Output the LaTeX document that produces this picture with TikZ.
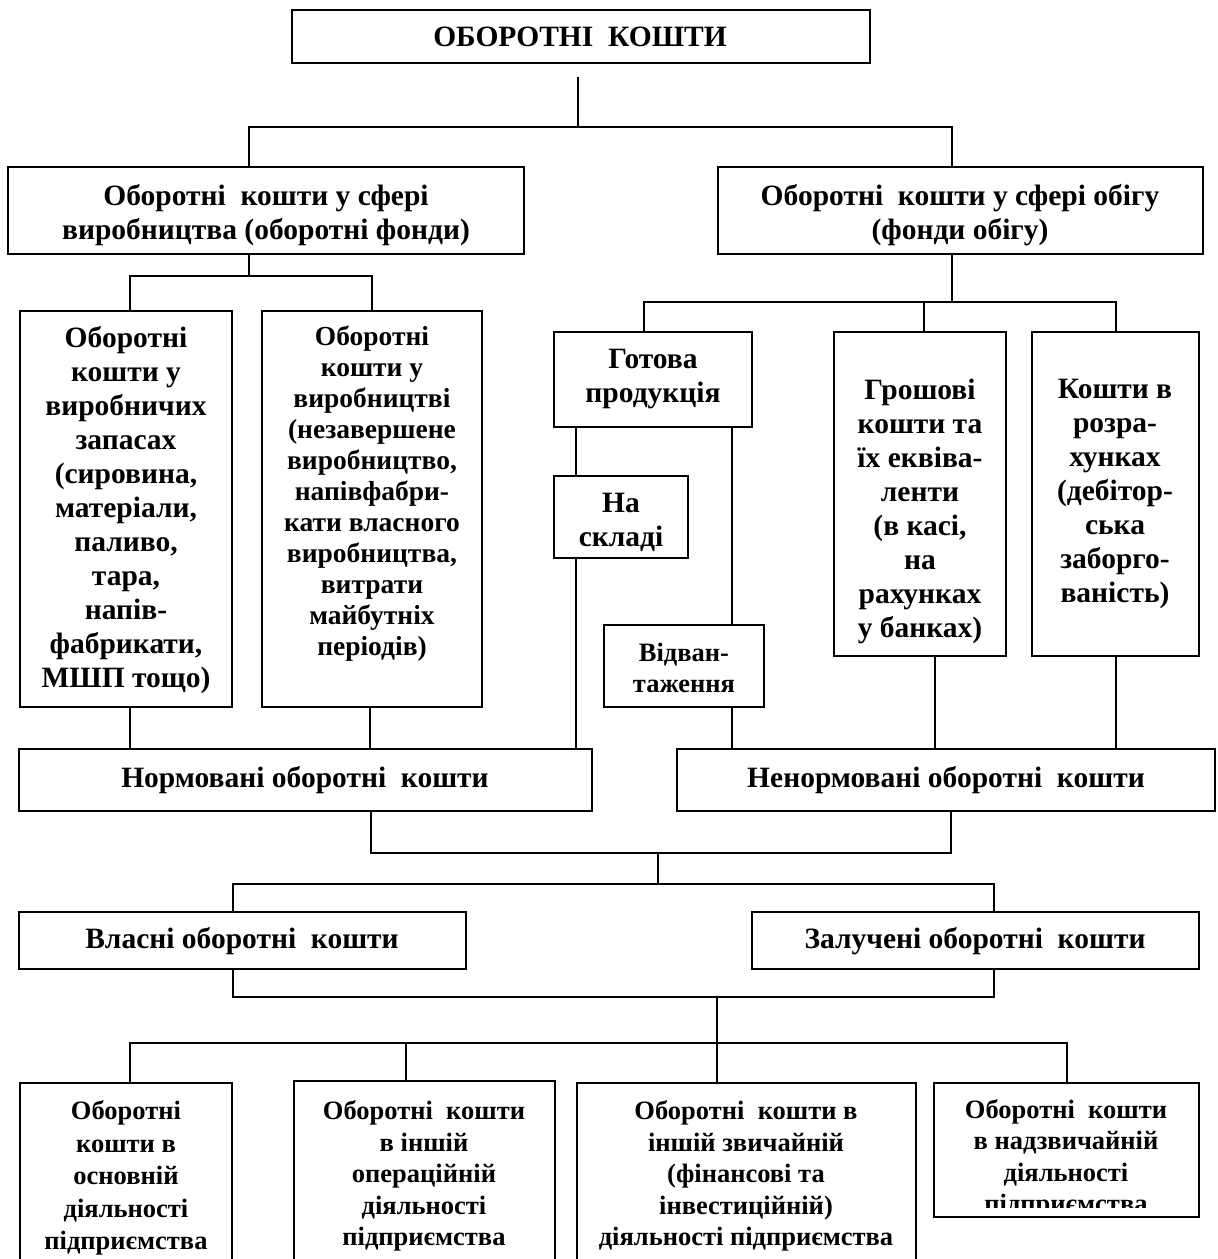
\documentclass[tikz,border=0pt]{standalone}
\usepackage{fontspec}
\setmainfont{Liberation Serif}
\newcommand{\bx}[5]{\node[box, minimum width=#4pt-#2pt, minimum height=#5pt-#3pt] (#1) at (#2,#3) {};}
\begin{document}
\begin{tikzpicture}[x=1pt,y=-1pt,
  box/.style={draw, line width=1.9pt, inner sep=0pt, outer sep=0pt, anchor=north west},
  txt/.style={align=center, inner sep=0pt, font=\fontsize{29.5}{34}\selectfont\bfseries},
  txts/.style={align=center, inner sep=0pt, font=\fontsize{26.5}{31.5}\selectfont\bfseries},
  ln/.style={line width=1.4pt}]
\clip (0,0) rectangle (1218,1259);
\fill[white] (0,0) rectangle (1218,1259);
% boxes
\bx{top}{292}{10}{870}{63}
\bx{La}{8}{167}{524}{254}
\bx{Lb}{718}{167}{1203}{254}
\bx{A}{20}{311}{232}{707}
\bx{B}{262}{311}{482}{707}
\bx{G}{554}{332}{752}{427}
\bx{S}{554}{476}{688}{558}
\bx{V}{604}{625}{764}{707}
\bx{M}{834}{332}{1006}{656}
\bx{R}{1032}{332}{1199}{656}
\bx{N}{19}{749}{592}{811}
\bx{NN}{677}{749}{1215}{811}
\bx{O}{19}{912}{466}{969}
\bx{Z}{752}{912}{1199}{969}
\bx{b1}{20}{1083}{232}{1300}
\bx{b2}{294}{1081}{555}{1300}
\bx{b3}{577}{1083}{916}{1300}
\bx{b4}{934}{1083}{1199}{1217}
% texts
\node[txt] (ttop) at (580,37) {ОБОРОТНІ~ КОШТИ};
\node[txt] (tLa) at (266,215) {Оборотні~ кошти у сфері\\виробництва (оборотні фонди)};
\node[txt] (tLb) at (960,215) {Оборотні~ кошти у сфері обігу\\(фонди обігу)};
\node[txt] (tA) at (126,510) {Оборотні\\кошти у\\виробничих\\запасах\\(сировина,\\матеріали,\\паливо,\\тара,\\напів-\\фабрикати,\\МШП тощо)};
\node[txt, font=\fontsize{27.5}{31}\selectfont\bfseries] (tB) at (372,494) {Оборотні\\кошти у\\виробництві\\(незавершене\\виробництво,\\напівфабри-\\кати власного\\виробництва,\\витрати\\майбутніх\\періодів)};
\node[txt] (tG) at (653,379) {Готова\\продукція};
\node[txt] (tS) at (621,522) {На\\складі};
\node[txts, font=\fontsize{26.5}{31}\selectfont\bfseries] (tV) at (684,668) {Відван-\\таження};
\node[txt] (tM) at (920,511) {Грошові\\кошти та\\їх екві\-ва-\\ленти\\(в касі,\\на\\рахунках\\у банках)};
\node[txt] (tR) at (1115,494) {Кошти в\\розра-\\хунках\\(дебітор-\\ська\\заборго-\\ваність)};
\node[txt] (tN) at (305,780) {Нормовані оборотні~ кошти};
\node[txt] (tNN) at (946,780) {Ненормовані оборотні~ кошти};
\node[txt] (tO) at (242,941) {Власні оборотні~ кошти};
\node[txt] (tZ) at (975,941) {Залучені оборотні~ кошти};
\node[txts, font=\fontsize{26.5}{32.5}\selectfont\bfseries] (tb1) at (126,1178) {Оборотні\\кошти в\\основній\\діяльності\\підприємства};
\node[txts] (tb2) at (424,1176) {Оборотні~ кошти\\в іншій\\операційній\\діяльності\\підприємства};
\node[txts] (tb3) at (746,1176) {Оборотні~ кошти в\\іншій звичайній\\(фінансові та\\інвестиційній)\\діяльності підприємства};
\begin{scope}
\clip (934,1083) rectangle (1199,1207);
\node[txts] (tb4) at (1066,1159) {Оборотні~ кошти\\в надзвичайній\\діяльності\\підприємства};
\end{scope}
% connectors
\coordinate (s1) at (578,77);
\coordinate (h1m) at (578,127);
\coordinate (h1l) at (249,127);
\coordinate (h1r) at (952,127);
\draw[ln] (s1) -- (h1m);
\draw[ln] (La.north -| h1l) -- (h1l) -- (h1r) -- (Lb.north -| h1r);
\coordinate (h2m) at (249,276);
\coordinate (h2l) at (130,276);
\coordinate (h2r) at (372,276);
\draw[ln] (La.south -| h2m) -- (h2m);
\draw[ln] (A.north -| h2l) -- (h2l) -- (h2r) -- (B.north -| h2r);
\coordinate (h3m) at (952,302);
\coordinate (h3l) at (644,302);
\coordinate (h3c) at (924,302);
\coordinate (h3r) at (1116,302);
\draw[ln] (Lb.south -| h3m) -- (h3m);
\draw[ln] (G.north -| h3l) -- (h3l) -- (h3r) -- (R.north -| h3r);
\draw[ln] (h3c) -- (M.north -| h3c);
\coordinate (vA) at (130,0);
\coordinate (vB) at (370,0);
\coordinate (vS) at (576,0);
\coordinate (vV) at (732,0);
\coordinate (vM) at (935,0);
\coordinate (vR) at (1116,0);
\draw[ln] (A.south -| vA) -- (N.north -| vA);
\draw[ln] (B.south -| vB) -- (N.north -| vB);
\draw[ln] (G.south -| vS) -- (S.north -| vS);
\draw[ln] (S.south -| vS) -- (N.north -| vS);
\draw[ln] (G.south -| vV) -- (V.north -| vV);
\draw[ln] (V.south -| vV) -- (NN.north -| vV);
\draw[ln] (M.south -| vM) -- (NN.north -| vM);
\draw[ln] (R.south -| vR) -- (NN.north -| vR);
\coordinate (h5l) at (371,853);
\coordinate (h5r) at (951,853);
\coordinate (h5m) at (658,853);
\coordinate (h6m) at (658,884);
\coordinate (h6l) at (233,884);
\coordinate (h6r) at (994,884);
\draw[ln] (N.south -| h5l) -- (h5l) -- (h5r) -- (NN.south -| h5r);
\draw[ln] (h5m) -- (h6m);
\draw[ln] (O.north -| h6l) -- (h6l) -- (h6r) -- (Z.north -| h6r);
\coordinate (h7l) at (233,997);
\coordinate (h7r) at (994,997);
\coordinate (h7m) at (717,997);
\coordinate (h8m) at (717,1043);
\coordinate (h8a) at (130,1043);
\coordinate (h8b) at (406,1043);
\coordinate (h8d) at (1067,1043);
\draw[ln] (O.south -| h7l) -- (h7l) -- (h7r) -- (Z.south -| h7r);
\draw[ln] (h7m) -- (h8m);
\draw[ln] (b1.north -| h8a) -- (h8a) -- (h8d) -- (b4.north -| h8d);
\draw[ln] (h8b) -- (b2.north -| h8b);
\draw[ln] (h8m) -- (b3.north -| h8m);
\end{tikzpicture}
\end{document}
